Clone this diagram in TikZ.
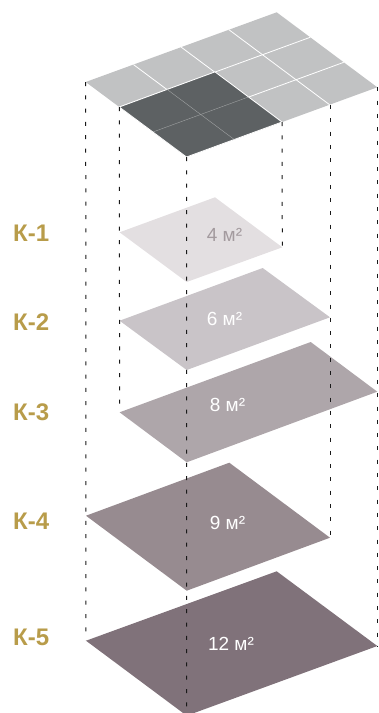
\documentclass[tikz,border=0pt]{standalone}
\usepackage{fontspec}
\setmainfont{Liberation Sans}
\usetikzlibrary{calc}
\definecolor{goldlabel}{HTML}{B89C4A}
\definecolor{roofplate}{HTML}{C1C2C3}
\definecolor{roofdark}{HTML}{5D6163}
\definecolor{plateone}{HTML}{E3DFE1}
\definecolor{platetwo}{HTML}{C9C4C8}
\definecolor{platethree}{HTML}{AEA6AA}
\definecolor{platefour}{HTML}{978B90}
\definecolor{platefive}{HTML}{80727A}
\definecolor{areagray}{HTML}{A39A9E}
\tikzset{
  levellabel/.style={text=goldlabel,font=\fontsize{24}{24}\selectfont\bfseries,anchor=west,inner sep=0pt},
  arealabel/.style={text=white,font=\fontsize{19}{19}\selectfont,inner sep=0pt},
  dropline/.style={black!90,line width=1pt,dash pattern=on 4pt off 9.3pt},
  gridline/.style={white,line width=0.8pt},
  thinline/.style={white!45!roofdark,line width=0.35pt}
}
\begin{document}
\begin{tikzpicture}[x=1pt,y=-1pt]
	\clip (0,0) rectangle (379,713);
	% roof
	\coordinate (rl) at (85.7,82);
	\coordinate (rt) at (276.7,12.3);
	\coordinate (rr) at (377.3,87.3);
	\coordinate (rb) at (186.5,157);
	\coordinate (dl) at ($(rl)!1/3!(rb)$);
	\coordinate (dt) at (215,71.9);
	\coordinate (dr) at (282,122);
	\fill[roofplate] (rl)--(rt)--(rr)--(rb)--cycle;
	\foreach \i in {1,2,3}
		\draw[gridline] ($(rl)!\i/4!(rt)$) -- ($(rb)!\i/4!(rr)$);
	\foreach \j in {1,2}
		\draw[gridline] ($(rl)!\j/3!(rb)$) -- ($(rt)!\j/3!(rr)$);
	\fill[roofdark] (dl)--(dt)--(dr)--(rb)--cycle;
	\draw[gridline] (dl)--(dt)--(dr)--(rb)--cycle;
	\draw[thinline] ($(dl)!.5!(dt)$) -- ($(rb)!.5!(dr)$);
	\draw[thinline] ($(dl)!.5!(rb)$) -- ($(dt)!.5!(dr)$);
	% plates
	\coordinate (al) at (119.6,232.3);
	\coordinate (ar) at (282.3,247.3);
	\coordinate (bl) at (119.6,320.7);
	\coordinate (br) at (330,317.3);
	\coordinate (cl) at (119.6,412.3);
	\coordinate (cr) at (377.3,391.7);
	\coordinate (el) at (86,515.7);
	\coordinate (er) at (330,537.7);
	\coordinate (fl) at (86,640.7);
	\coordinate (fr) at (377.3,646);
	\fill[plateone] (al)--(215,197.3)--(ar)--(186.7,282)--cycle;
	\fill[platetwo] (bl)--(262.7,268)--(br)--(186.7,370)--cycle;
	\fill[platethree] (cl)--(310.7,342)--(cr)--(186.7,462.3)--cycle;
	\fill[platefour] (el)--(229.3,462.7)--(er)--(186.7,590.7)--cycle;
	\fill[platefive] (fl)--(276.7,571.3)--(fr)--(186.7,715.7)--cycle;
	% drop lines
	\coordinate (rc) at (330,105);
	\coordinate (end) at (186.6,713);
	\draw[dropline] (rl) -- (fl);
	\draw[dropline] (dl) -- (cl);
	\draw[dropline] (rb) -- (end);
	\draw[dropline] (dr) -- (ar);
	\draw[dropline] (rc) -- (er);
	\draw[dropline] (rr) -- (fr);
	% labels
	\node[levellabel] (ka) at (13,233) {К-1};
	\node[levellabel] (kb) at (13,322) {К-2};
	\node[levellabel] (kc) at (13,412) {К-3};
	\node[levellabel] (kd) at (13,521) {К-4};
	\node[levellabel] (ke) at (13,637) {К-5};
	\node[arealabel,text=areagray] (ma) at (224.5,235) {4 м²};
	\node[arealabel] (mb) at (224.5,319) {6 м²};
	\node[arealabel] (mc) at (227.5,405) {8 м²};
	\node[arealabel] (md) at (227.5,523) {9 м²};
	\node[arealabel] (me) at (231,644) {12 м²};
\end{tikzpicture}
\end{document}
